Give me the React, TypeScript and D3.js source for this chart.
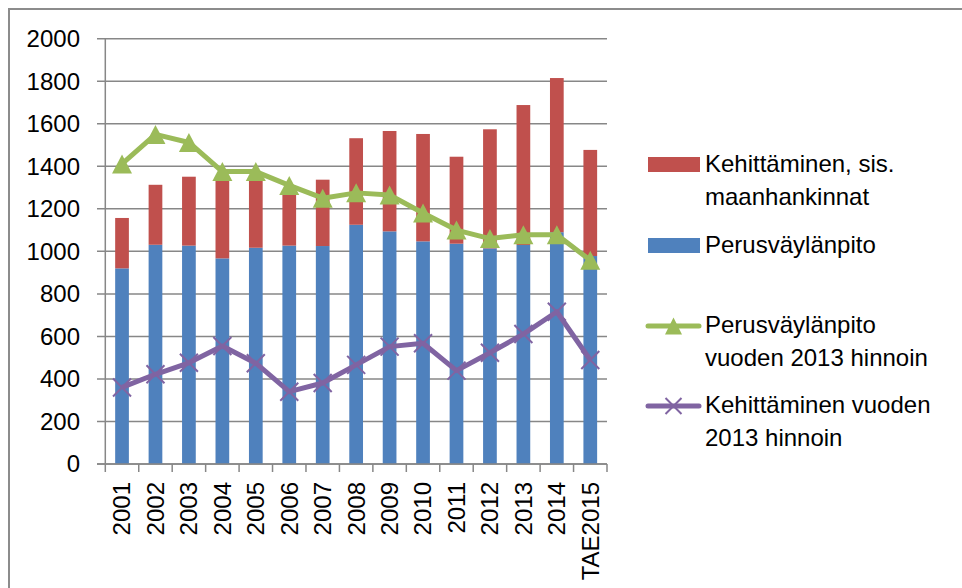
import React from 'react';
import * as d3 from 'd3';

const years = ['2001','2002','2003','2004','2005','2006','2007','2008','2009','2010','2011','2012','2013','2014','TAE2015'];
// pinotut pylväät
const perus = [920,1031,1027,967,1017,1027,1025,1125,1094,1047,1036,1014,1030,1090,978];
const kehTotal = [1157,1313,1351,1340,1340,1280,1337,1532,1566,1552,1445,1574,1688,1815,1477];
// viivat
const perus2013 = [1411,1550,1512,1375,1375,1310,1250,1275,1265,1180,1100,1060,1078,1078,958];
const keh2013 = [360,422,476,555,474,340,381,466,552,568,439,523,611,716,489];
const yTicks = [0,200,400,600,800,1000,1200,1400,1600,1800,2000];

const W = 962, H = 588;
const blue = '#4F81BD', red = '#C0504D', green = '#9BBB59', purple = '#8064A2';
const gridCol = '#878787';
const font = '"Liberation Sans", Arial, sans-serif';

const tri = (cx:number, cy:number, hw:number, hh:number) =>
  `M${cx},${cy-hh}L${cx+hw},${cy+hh}L${cx-hw},${cy+hh}Z`;
const cross = (cx:number, cy:number, s:number) =>
  `M${cx-s},${cy-s}L${cx+s},${cy+s}M${cx-s},${cy+s}L${cx+s},${cy-s}`;

export default function App(){
  const left = 105.3, right = 607, top = 38.7, bottom = 464;
  const x = d3.scaleBand().domain(years).range([left,right]).padding(0);
  const y = d3.scaleLinear().domain([0,2000]).range([bottom,top]);
  const bw = x.bandwidth()*0.41;
  const cx = (d:string) => (x(d) as number) + x.bandwidth()/2;

  const line = d3.line<number>().x((d,i)=>cx(years[i])).y(d=>y(d));

  const legendText = (lines:string[], x0:number, y0:number) => (
    <text x={x0} y={y0} fontSize={24} fontFamily={font} fill="#000">
      {lines.map((t,i)=>(<tspan key={i} x={x0} dy={i===0?0:33}>{t}</tspan>))}
    </text>
  );

  return (
    <svg width={W} height={H} style={{position:'absolute',left:0,top:0,background:'#fff'}}>
      <rect x={0} y={0} width={W} height={H} fill="#fff"/>
      {/* kehys */}
      <rect x={9} y={9} width={W+20} height={H+20} fill="none" stroke="#8c8c8c" strokeWidth={2}/>

      {/* ruudukko */}
      {yTicks.map(t=>(
        <g key={t}>
          <line x1={97} x2={right} y1={y(t)} y2={y(t)} stroke={gridCol} strokeWidth={1.5}/>
          <text x={80} y={y(t)} dy="0.35em" textAnchor="end" fontSize={24} fontFamily={font} fill="#000">{t}</text>
        </g>
      ))}
      <line x1={left} x2={left} y1={top} y2={bottom} stroke={gridCol} strokeWidth={1.5}/>

      {/* pylväät */}
      {years.map((d,i)=>(
        <g key={d}>
          <rect x={cx(d)-bw/2} y={y(perus[i])} width={bw} height={y(0)-y(perus[i])} fill={blue}/>
          <rect x={cx(d)-bw/2} y={y(kehTotal[i])} width={bw} height={y(perus[i])-y(kehTotal[i])} fill={red}/>
        </g>
      ))}

      {/* x-akseli */}
      <line x1={97} x2={right} y1={bottom} y2={bottom} stroke={gridCol} strokeWidth={1.5}/>
      {years.map(d=>(
        <line key={d} x1={x(d)} x2={x(d)} y1={bottom} y2={bottom+8} stroke={gridCol} strokeWidth={1.5}/>
      ))}
      <line x1={right} x2={right} y1={bottom} y2={bottom+8} stroke={gridCol} strokeWidth={1.5}/>
      {years.map(d=>(
        <text key={d} transform={`translate(${cx(d)},482) rotate(-90)`} dy="0.35em" textAnchor="end"
          fontSize={24} fontFamily={font} fill="#000">{d}</text>
      ))}

      {/* viivat */}
      <path d={line(perus2013) || ''} fill="none" stroke={green} strokeWidth={5} strokeLinejoin="round"/>
      {perus2013.map((v,i)=>(
        <path key={i} d={tri(cx(years[i]),y(v),10,9.5)} fill={green}/>
      ))}
      <path d={line(keh2013) || ''} fill="none" stroke={purple} strokeWidth={5} strokeLinejoin="round"/>
      {keh2013.map((v,i)=>(
        <path key={i} d={cross(cx(years[i]),y(v),9)} stroke={purple} strokeWidth={2}/>
      ))}

      {/* selite */}
      <rect x={648} y={157} width={52} height={15} fill={red}/>
      {legendText(['Kehittäminen, sis.','maanhankinnat'],705,172)}
      <rect x={648} y={238} width={52} height={15} fill={blue}/>
      {legendText(['Perusväylänpito'],705,253)}
      <line x1={648} x2={699} y1={326} y2={326} stroke={green} strokeWidth={5} strokeLinecap="round"/>
      <path d={tri(673.5,326,8.5,8.5)} fill={green}/>
      {legendText(['Perusväylänpito','vuoden 2013 hinnoin'],705,333)}
      <line x1={648} x2={699} y1={406} y2={406} stroke={purple} strokeWidth={5} strokeLinecap="round"/>
      <path d={cross(673.5,406,8)} stroke={purple} strokeWidth={2}/>
      {legendText(['Kehittäminen vuoden','2013 hinnoin'],705,413)}
    </svg>
  );
}
